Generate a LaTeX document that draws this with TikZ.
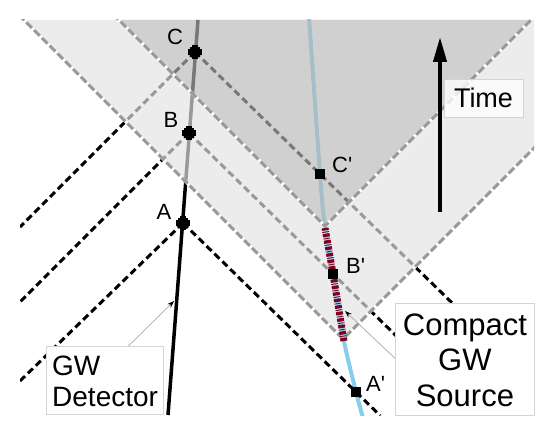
\documentclass[tikz,border=0pt]{standalone}
\usepackage{fontspec}
\setmainfont{Liberation Sans}[Ligatures=TeXOff]
\usetikzlibrary{arrows.meta,calc}
\definecolor{srcblue}{RGB}{136,204,238}
\definecolor{srcred}{RGB}{128,0,32}
\definecolor{bndgray}{RGB}{153,153,153}
\definecolor{lightov}{RGB}{227,227,227}
\definecolor{darkov}{RGB}{183,183,183}
\definecolor{boxline}{RGB}{212,212,212}
\definecolor{ptrgray}{RGB}{170,170,170}
\tikzset{
  nullline/.style={line width=3pt, black, dash pattern=on 7pt off 4pt},
  boundbase/.style={line width=3pt, white},
  boundline/.style={line width=3pt, bndgray, dash pattern=on 8pt off 3pt},
  lbl/.style={font=\fontsize{22}{26}\selectfont, inner sep=0pt},
  callout/.style={draw=boxline, line width=0.8pt, fill=white, inner sep=0pt},
  pointer/.style={ptrgray, line width=0.7pt, -{Stealth[length=7pt,width=5pt,color=black]}},
  srcmark/.style={fill=black, minimum size=10pt, inner sep=0pt},
  detmark/.pic={\fill (-5,-5) rectangle (5,5); \fill (-7,-3) rectangle (7,3); \fill (-3,-7) rectangle (3,7);}
}
\begin{document}
\begin{tikzpicture}[x=1pt,y=-1pt]
\useasboundingbox (0,0) rectangle (554,436);
% events
\coordinate (A) at (183,223);
\coordinate (B) at (189,133);
\coordinate (C) at (195,52);
\coordinate (Ap) at (356,392);
\coordinate (Bp) at (333,274);
\coordinate (Cp) at (320,174);
\coordinate (Dbot) at (168,415);
\coordinate (Dtop) at (198,20);
\coordinate (L) at (343,339);
\coordinate (D) at (325,226);
\coordinate (Sbot) at (344,341);
\coordinate (Stop) at (325,228);
\coordinate (Aw) at (20,381);
\coordinate (Bw) at (20,302);
\coordinate (Cw) at (20,227);
\coordinate (Ae) at ($(A)!1.14!(Ap)$);
\coordinate (Be) at ($(B)!1.6!(Bp)$);
\coordinate (Ce) at ($(C)!2.1!(Cp)$);
\coordinate (Lw) at ($(L)+(-340,-340)$);
\coordinate (Le) at ($(L)+(210,-210)$);
\coordinate (Dw) at ($(D)+(-220,-220)$);
\coordinate (De) at ($(D)+(220,-220)$);
\begin{scope}
\clip (20,20) rectangle (534,415);
% world lines
\draw[line width=3.5pt] (Dbot) -- (Dtop);
\draw[srcblue, line width=4pt] plot[smooth] coordinates {(363,418) (Ap) (Sbot) (Bp) (Stop) (Cp) (309,17)};
% null rays
\draw[nullline] (A) -- (Ae);
\draw[nullline] (A) -- (Aw);
\draw[nullline] (B) -- (Be);
\draw[nullline] (B) -- (Bw);
\draw[nullline] (C) -- (Ce);
\draw[nullline] (C) -- (Cw);
% shaded future cones
\fill[lightov, opacity=0.675, even odd rule] (24,20) -- (534,20) -- (534,148) -- (L) -- cycle
   (119,20) -- (531,20) -- (D) -- cycle;
\fill[darkov, opacity=0.65] (119,20) -- (531,20) -- (D) -- cycle;
% cone boundaries
\draw[boundbase] (Lw) -- (L) -- (Le);
\draw[boundline] (Lw) -- (L) -- (Le);
\draw[boundbase] (Dw) -- (D) -- (De);
\draw[boundline] (Dw) -- (D) -- (De);
\end{scope}
% emitting segment
\draw[srcblue, line width=4.5pt] plot[smooth] coordinates {(Sbot) (Bp) (Stop)};
\draw[srcred, line width=7pt, dash pattern=on 3.2pt off 1.3pt on 0.8pt off 1.3pt] plot[smooth] coordinates {(Sbot) (Bp) (Stop)};
% markers
\pic at (A) {detmark};
\pic at (B) {detmark};
\pic at (C) {detmark};
\node[srcmark] (mAp) at (Ap) {};
\node[srcmark] (mBp) at (Bp) {};
\node[srcmark] (mCp) at (Cp) {};
% labels
\node[lbl, anchor=base] (lA) at (164,219) {A};
\node[lbl, anchor=base] (lB) at (171,127) {B};
\node[lbl, anchor=base] (lC) at (175,45) {C};
\node[lbl, anchor=base west] (lAp) at (366,391) {A'};
\node[lbl, anchor=base west] (lBp) at (346,273) {B'};
\node[lbl, anchor=base west] (lCp) at (332,172) {C'};
% time arrow
\coordinate (tb) at (440,212);
\coordinate (tt) at (440,37);
\draw[line width=4pt, -{Triangle[width=13pt,length=25pt]}] (tb) -- (tt);
\node[callout, fill=white, fill opacity=0.78, text opacity=1, minimum width=79pt, minimum height=38pt,
  font=\fontsize{27}{30}\selectfont] (time) at (483.5,98) {Time};
% GW detector callout
\node[callout, anchor=north west, minimum width=117pt, minimum height=68pt] (det) at (46,346) {};
\node[font=\fontsize{28}{31}\selectfont, inner sep=0pt, anchor=base west] (detA) at ($(det.north west)+(6,29)$) {GW};
\node[font=\fontsize{28}{31}\selectfont, inner sep=0pt, anchor=base west] (detB) at ($(det.north west)+(6,60)$) {Detector};
\coordinate (detptr) at (174,301);
\draw[pointer] ($(det.north west)!0.70!(det.north east)$) -- (detptr);
% compact source callout
\node[callout, anchor=north west, minimum width=139pt, minimum height=112pt] (src) at (395,303) {};
\node[font=\fontsize{31}{35}\selectfont, inner sep=0pt, anchor=base] (srcA) at ($(src.north)+(0,32)$) {Compact};
\node[font=\fontsize{31}{35}\selectfont, inner sep=0pt, anchor=base] (srcB) at ($(src.north)+(0,67)$) {GW};
\node[font=\fontsize{31}{35}\selectfont, inner sep=0pt, anchor=base] (srcC) at ($(src.north)+(0,103)$) {Source};
\coordinate (srcptr) at (345,311);
\draw[pointer] ($(src.north west)!0.49!(src.south west)$) -- (srcptr);
\end{tikzpicture}
\end{document}
